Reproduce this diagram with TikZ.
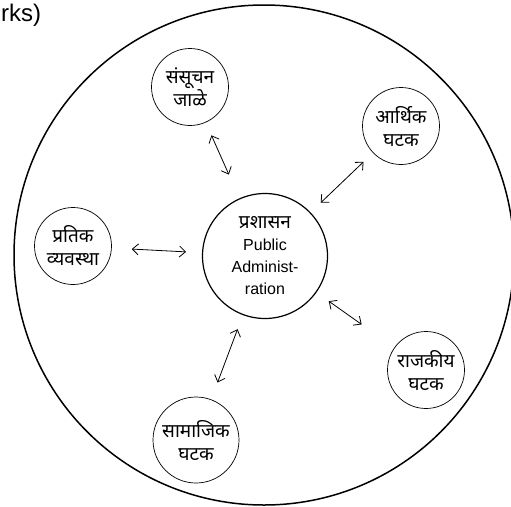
\documentclass[tikz,border=0pt]{standalone}
\usepackage{fontspec}
\setmainfont{Liberation Sans}
\newfontfamily\deva[Script=Devanagari]{Noto Sans}
\usetikzlibrary{arrows.meta}

\begin{document}
\begin{tikzpicture}[x=1pt,y=1pt,yscale=-1,xscale=1,
    part/.style={draw, circle, line width=0.7pt, inner sep=0pt, minimum size=77pt,
        align=center, font=\deva\fontsize{19}{23}\selectfont},
    link/.style={{Straight Barb[length=6pt,width=11pt]}-{Straight Barb[length=6pt,width=11pt]},
        line width=0.8pt}]

    \useasboundingbox (0,0) rectangle (511,506);

    % Text Node
    \node [anchor=west, inner sep=0pt, font=\fontsize{24}{28}\selectfont] (title) at (1,15) {rks)};

    % outer ring
    \draw [line width=1.5pt] (264,255) circle (250pt);

    % centre
    \node [draw, circle, line width=1.2pt, inner sep=0pt, minimum size=125pt, align=center,
        font=\fontsize{16}{22}\selectfont] (pa) at (265,256)
        {{\deva\fontsize{19}{22}\selectfont प्रशासन}\\Public\\Administ-\\ration};

    % surrounding parts
    \node [part] (sanchar) at (190,87) {संसूचन\\जाळे};
    \node [part] (arthik) at (401,126) {आर्थिक\\घटक};
    \node [part] (pratik) at (73,246) {प्रतिक\\व्यवस्था};
    \node [part, minimum size=86pt] (samajik) at (196,440) {सामाजिक\\घटक};
    \node [part] (rajkiya) at (426,370) {राजकीय\\घटक};

    % links
    \draw [link, shorten <=26pt, shorten >=14pt] (pa) -- (sanchar);
    \draw [link, shorten <=14pt, shorten >=13pt] (pa) -- (arthik);
    \draw [link, shorten <=16pt, shorten >=20pt] (pa) -- (pratik);
    \draw [link, shorten <=15pt, shorten >=18pt] (pa) -- (samajik);
    \draw [link, shorten <=15pt, shorten >=40pt] (pa) -- (rajkiya);

\end{tikzpicture}
\end{document}
